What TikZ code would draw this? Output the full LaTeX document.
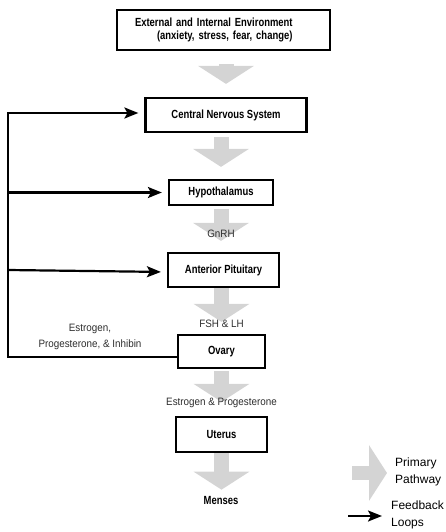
\documentclass[tikz,border=0pt]{standalone}
\usepackage{fontspec}
\setmainfont{Liberation Sans}[FakeStretch=0.92]
\newfontfamily\condbold{Liberation Sans}[FakeStretch=0.8]
\newfontfamily\legendfont{Liberation Sans}
\usepackage{tikz}
\usetikzlibrary{arrows.meta, positioning}
\definecolor{pathgray}{RGB}{212,212,212}
\definecolor{labelgray}{RGB}{45,45,45}
\newcommand{\boxfont}{\condbold\fontsize{11.8}{13}\selectfont\bfseries}
\newcommand{\lblfont}{\fontsize{10.7}{15.5}\selectfont}

\begin{document}
\begin{tikzpicture}[x=1pt, y=1pt, font=\lblfont,
  box/.style={draw, line width=2.2pt, font=\boxfont, inner sep=0pt},
  primary/.style={color=pathgray, line width=15pt, -{Triangle[width=55pt, length=18pt]}},
  fbarrow/.style={line width=2.2pt, -{Stealth[length=14pt, width=11pt, inset=3pt]}, shorten >=6pt},
  lbl/.style={text=labelgray, inner sep=0pt}]
\useasboundingbox (0,0) rectangle (446,-532);

% hierarchy boxes
\node[box, minimum width=213pt, minimum height=40pt, inner xsep=18pt, text width=177pt, align=left] (env) at (223.5,-30)
  {External and Internal Environment\\\hspace*{22pt}(anxiety, stress, fear, change)};
\node[box, minimum width=161pt, minimum height=34pt] (cns) at (226,-115) {Central Nervous System};
\node[box, minimum width=104pt, minimum height=25pt] (hyp) at (221,-192.5) {Hypothalamus};
\node[box, minimum width=111pt, minimum height=34pt] (ap) at (223.5,-270) {Anterior Pituitary};
\node[box, minimum width=87pt, minimum height=33pt] (ovary) at (221.5,-351.5) {Ovary};
\node[box, minimum width=91pt, minimum height=35pt] (uterus) at (221.5,-434.5) {Uterus};
\node[font=\boxfont, inner sep=0pt] (menses) at (221,-500) {Menses};

% primary pathway
\draw[primary, shorten <=13pt, shorten >=13pt] (env.south -| cns) -- (cns.north);
\draw[primary, shorten <=4pt, shorten >=12pt] (cns.south -| hyp) -- (hyp.north);
\draw[primary, shorten <=3pt, shorten >=11pt] (hyp.south) -- (hyp.south |- ap.north)
  node[lbl, pos=0.6] (gnrh) {GnRH};
\draw[primary, shorten <=0pt, shorten >=12pt] (ap.south -| ovary) -- (ovary.north)
  node[lbl, pos=0.78] (fshlh) {FSH \& LH};
\draw[primary, shorten <=2pt, shorten >=14pt] (ovary.south) -- (ovary.south |- uterus.north)
  node[lbl, pos=0.72] (estprog) {Estrogen \& Progesterone};
\draw[primary, shorten >=6pt] (uterus.south) -- (uterus.south |- menses.north);

% feedback loops
\coordinate (fbx) at (8,-300);
\draw[fbarrow] ([yshift=-5.5pt]ovary.west) -| (fbx) |- ([yshift=2pt]cns.west);
\draw[fbarrow] (fbx |- hyp.west) -- (hyp.west);
\draw[fbarrow] (fbx |- ap.west) -- ([yshift=-2pt]ap.west);
\node[lbl, align=center] (fblabel) at (90,-337) {Estrogen,\\Progesterone, \& Inhibin};

% legend
\node[font=\legendfont\fontsize{12}{17}\selectfont, align=left, anchor=west, inner sep=0pt] (primtxt) at (395,-472) {Primary\\Pathway};
\node[font=\legendfont\fontsize{12}{17}\selectfont, align=left, anchor=west, inner sep=0pt] (fbtxt) at (391,-515) {Feedback\\Loops};
\coordinate (primstart) at (352,-473);
\coordinate (fbstart) at (348,-516);
\draw[primary, line width=14pt, shorten >=8pt] (primstart) -- (primstart -| primtxt.west);
\draw[fbarrow, shorten >=9pt] (fbstart) -- (fbstart -| fbtxt.west);
\end{tikzpicture}
\end{document}
